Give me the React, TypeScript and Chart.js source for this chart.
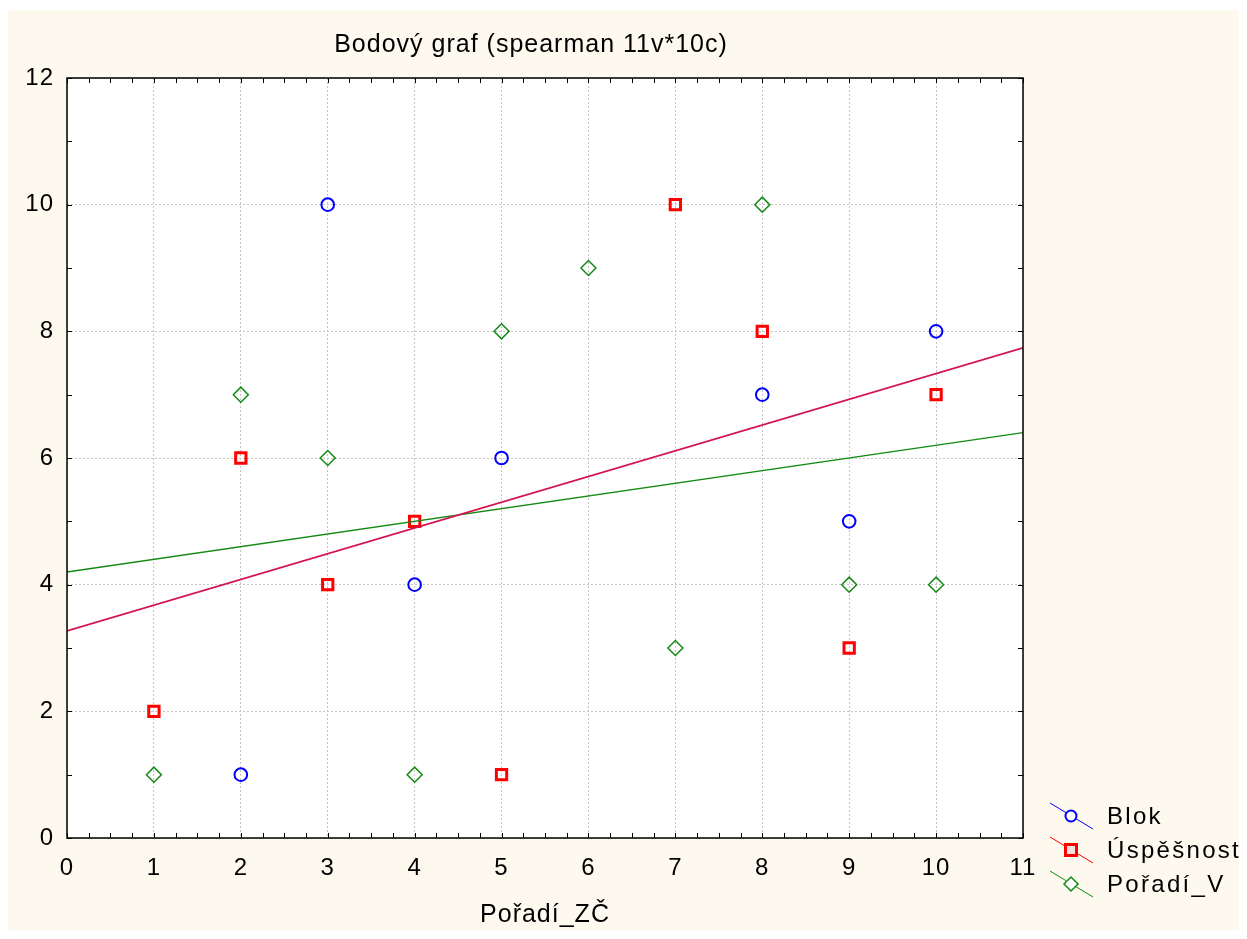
import { Chart, registerables } from "chart.js";
import { useEffect, useRef } from "react";

Chart.register(...registerables);

// body hodnot (x = Pořadí_ZČ)
const blokX = [2, 3, 4, 5, 8, 9, 10];
const blokY = [1, 10, 4, 6, 7, 5, 8];
const uspesnostX = [1, 2, 3, 4, 5, 7, 8, 9, 10];
const uspesnostY = [2, 6, 4, 5, 1, 10, 8, 3, 7];
const poradiX = [1, 2, 3, 4, 5, 6, 7, 8, 9, 10];
const poradiY = [1, 7, 6, 1, 8, 9, 3, 10, 4, 4];

// regresní přímky (koncové body)
const fitX = [0, 11];
const fitUspesnost = [3.27, 7.74];
const fitPoradi = [4.2, 6.4];

const xTicks = [0, 1, 2, 3, 4, 5, 6, 7, 8, 9, 10, 11];
const yTicks = [0, 2, 4, 6, 8, 10, 12];

const TITLE = "Bodový graf (spearman 11v*10c)";
const X_TITLE = "Pořadí_ZČ";
const FONT = "'Liberation Sans', Arial, sans-serif";

const BLUE = "#0000ff";
const RED = "#ff0000";
const GREEN = "#138a13";
const FIT_RED = "#d3144f";

const legendItems = [
  { label: "Blok", color: BLUE, style: "circle" },
  { label: "Úspěšnost", color: RED, style: "rect" },
  { label: "Pořadí_V", color: GREEN, style: "diamond" },
];

const pts = (xs: number[], ys: number[]) => xs.map((x, i) => ({ x, y: ys[i] }));

const drawMarker = (ctx: CanvasRenderingContext2D, style: string, color: string, x: number, y: number) => {
  ctx.save();
  ctx.strokeStyle = color;
  ctx.beginPath();
  if (style === "circle") {
    ctx.lineWidth = 2;
    ctx.arc(x, y, 5.5, 0, Math.PI * 2);
  } else if (style === "rect") {
    ctx.lineWidth = 3;
    ctx.rect(x - 5.5, y - 5.5, 11, 11);
  } else {
    ctx.lineWidth = 1.5;
    ctx.moveTo(x - 7, y);
    ctx.lineTo(x, y - 7);
    ctx.lineTo(x + 7, y);
    ctx.lineTo(x, y + 7);
    ctx.closePath();
  }
  ctx.stroke();
  ctx.restore();
};

const framePlugin = {
  id: "frame",
  afterDraw(chart: Chart) {
    const ctx = chart.ctx as any;
    const { left, right, top, bottom } = chart.chartArea;
    const xs = chart.scales.x;
    const ys = chart.scales.y;
    ctx.save();
    // rámeček
    ctx.strokeStyle = "#000";
    ctx.lineWidth = 1.5;
    ctx.strokeRect(left, top, right - left, bottom - top);
    // vnitřní značky
    ctx.lineWidth = 1;
    ctx.beginPath();
    for (let v = 0; v <= 11; v += 0.25) {
      const px = Math.round(xs.getPixelForValue(v)) + 0.5;
      ctx.moveTo(px, bottom);
      ctx.lineTo(px, bottom - 5);
      ctx.moveTo(px, top);
      ctx.lineTo(px, top + 5);
    }
    for (let v = 0; v <= 12; v += 1) {
      const py = Math.round(ys.getPixelForValue(v)) + 0.5;
      ctx.moveTo(left, py);
      ctx.lineTo(left + 5, py);
      ctx.moveTo(right, py);
      ctx.lineTo(right - 5, py);
    }
    ctx.stroke();

    // titulek
    ctx.fillStyle = "#000";
    ctx.font = `25px ${FONT}`;
    ctx.letterSpacing = "1px";
    ctx.textAlign = "center";
    ctx.textBaseline = "middle";
    ctx.fillText(TITLE, 523, 35);

    // legenda
    ctx.font = `24px ${FONT}`;
    ctx.letterSpacing = "2.3px";
    ctx.textAlign = "left";
    legendItems.forEach((it, i) => {
      const cy = 806 + i * 34;
      const cx = 1063;
      ctx.strokeStyle = it.color;
      ctx.lineWidth = 1;
      ctx.beginPath();
      ctx.moveTo(cx - 21, cy - 13);
      ctx.lineTo(cx + 22, cy + 13);
      ctx.stroke();
      ctx.fillStyle = "#fff";
      if (it.style === "rect") ctx.fillStyle = "#f0e0e0";
      ctx.fillRect(cx - 5, cy - 5, 10, 10);
      drawMarker(ctx, it.style, it.color, cx, cy);
      ctx.fillStyle = "#000";
      ctx.fillText(it.label, 1099, cy + 1);
    });
    ctx.restore();
  },
};

const bgPlugin = {
  id: "plotBg",
  beforeDraw(chart: Chart) {
    const ctx = chart.ctx as any;
    const { left, right, top, bottom } = chart.chartArea;
    ctx.save();
    ctx.fillStyle = "#ffffff";
    ctx.fillRect(left, top, right - left, bottom - top);
    ctx.restore();
    // širší rozestup písma jako v originále
    ctx.letterSpacing = "1px";
  },
};

const ScatterChart = () => {
  const canvasRef = useRef<HTMLCanvasElement>(null);
  const chartRef = useRef<Chart | null>(null);

  useEffect(() => {
    if (!canvasRef.current) return;
    if (chartRef.current) chartRef.current.destroy();

    chartRef.current = new Chart(canvasRef.current, {
      type: "scatter",
      data: {
        datasets: [
          {
            label: "fit Úspěšnost",
            data: pts(fitX, fitUspesnost),
            showLine: true,
            borderColor: FIT_RED,
            borderWidth: 1.6,
            pointRadius: 0,
          },
          {
            label: "fit Pořadí_V",
            data: pts(fitX, fitPoradi),
            showLine: true,
            borderColor: GREEN,
            borderWidth: 1.4,
            pointRadius: 0,
          },
          {
            label: "Blok",
            data: pts(blokX, blokY),
            pointStyle: "circle",
            pointRadius: 6.3,
            pointBorderWidth: 2,
            pointBorderColor: BLUE,
            pointBackgroundColor: "rgba(0,0,0,0)",
          },
          {
            label: "Úspěšnost",
            data: pts(uspesnostX, uspesnostY),
            pointStyle: "rect",
            pointRadius: 7.3,
            pointBorderWidth: 3,
            pointBorderColor: RED,
            pointBackgroundColor: "rgba(0,0,0,0)",
          },
          {
            label: "Pořadí_V",
            data: pts(poradiX, poradiY),
            pointStyle: "rectRot",
            pointRadius: 7.5,
            pointBorderWidth: 1.5,
            pointBorderColor: GREEN,
            pointBackgroundColor: "rgba(0,0,0,0)",
          },
        ],
      },
      options: {
        animation: false,
        responsive: false,
        layout: { padding: { top: 68, right: 224, left: 0, bottom: 0 } },
        plugins: {
          legend: { display: false },
          title: { display: false },
          tooltip: { enabled: false },
        },
        scales: {
          x: {
            type: "linear",
            min: 0,
            max: 11,
            afterFit: (s: any) => {
              s.height = 92;
            },
            afterBuildTicks: (s: any) => {
              s.ticks = xTicks.map((v) => ({ value: v }));
            },
            grid: { color: "#c4c4c4", lineWidth: 1, drawTicks: false },
            border: { display: false, dash: [2, 2] },
            ticks: {
              padding: 16,
              color: "#000",
              font: { family: FONT, size: 24 },
            },
            title: {
              display: true,
              text: X_TITLE,
              color: "#000",
              font: { family: FONT, size: 25 },
              padding: { top: 0, bottom: 0 },
            },
          },
          y: {
            type: "linear",
            min: 0,
            max: 12,
            afterFit: (s: any) => {
              s.width = 59;
            },
            afterBuildTicks: (s: any) => {
              s.ticks = yTicks.map((v) => ({ value: v }));
            },
            grid: { color: "#c4c4c4", lineWidth: 1, drawTicks: false },
            border: { display: false, dash: [2, 2] },
            ticks: {
              padding: 13,
              color: "#000",
              font: { family: FONT, size: 24 },
            },
          },
        },
      },
      plugins: [bgPlugin, framePlugin],
    });

    return () => {
      chartRef.current?.destroy();
    };
  }, []);

  return (
    <div style={{ width: 1239, height: 920, marginTop: 2, background: "#fdf9ee" }}>
      <canvas ref={canvasRef} width={1239} height={920} style={{ display: "block" }} />
    </div>
  );
};

export default function App() {
  return <ScatterChart />;
}
